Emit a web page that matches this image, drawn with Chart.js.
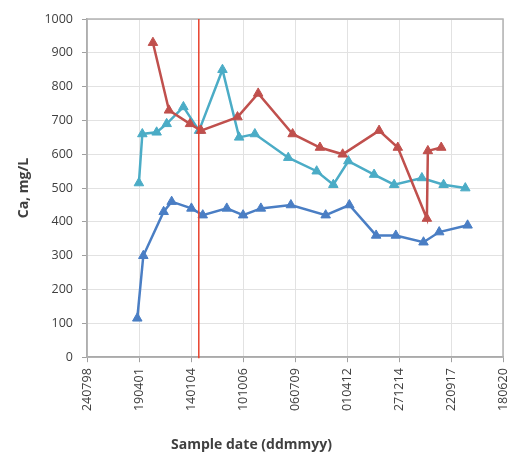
<!DOCTYPE html>
<html>
<head>
<meta charset="utf-8">
<script src="https://cdn.jsdelivr.net/npm/chart.js@4.4.1/dist/chart.umd.min.js"></script>
<style>
  html, body { margin: 0; padding: 0; background: #ffffff; }
  #wrap { width: 514px; height: 457px; }
</style>
</head>
<body>
<div id="wrap"><canvas id="chart" width="514" height="457"></canvas></div>
<script>
// Sample dates are spreadsheet day serials (days since 30 Dec 1899).
const xTickValues = [36000, 37000, 38000, 39000, 40000, 41000, 42000, 43000, 44000];
const xTickLabels = ['240798', '190401', '140104', '101006', '060709', '010412', '271214', '220917', '180620'];
const yTicks = [0, 100, 200, 300, 400, 500, 600, 700, 800, 900, 1000];

// Well A (blue)
const wellADates = [36967, 37083, 37474, 37628, 38008, 38226, 38688, 39002, 39344, 39921, 40590, 41045, 41560, 41939, 42471, 42773, 43319];
const wellACa    = [115, 300, 430, 460, 440, 420, 440, 420, 440, 450, 420, 450, 360, 360, 340, 370, 390];

// Well B (red)
const wellBDates = [37268, 37576, 37981, 38193, 38894, 39292, 39954, 40480, 40917, 41617, 41977, 42536, 42555, 42812];
const wellBCa    = [930, 730, 690, 670, 710, 780, 660, 620, 600, 670, 620, 410, 610, 620];

// Well C (teal)
const wellCDates = [36998, 37064, 37339, 37532, 37854, 38155, 38605, 38926, 39228, 39870, 40417, 40737, 41026, 41521, 41906, 42440, 42857, 43275];
const wellCCa    = [515, 660, 665, 690, 740, 670, 850, 650, 660, 590, 550, 510, 580, 540, 510, 530, 510, 500];

// Date of the reference event marked by the vertical line
const eventDate = 38150;

function toPoints(dates, values) {
  return dates.map((d, i) => ({ x: d, y: values[i] }));
}

function seriesStyle(color) {
  return {
    borderColor: color,
    backgroundColor: color,
    borderWidth: 2.5,
    pointStyle: 'triangle',
    pointRadius: 5.5,
    pointHoverRadius: 5.5,
    pointBorderWidth: 1,
    tension: 0,
    fill: false
  };
}

const eventLine = {
  id: 'eventLine',
  afterDatasetsDraw(chart) {
    const { ctx, chartArea, scales } = chart;
    const x = scales.x.getPixelForValue(eventDate);
    ctx.save();
    ctx.strokeStyle = '#e8412c';
    ctx.lineWidth = 1.5;
    ctx.beginPath();
    ctx.moveTo(x, chartArea.top);
    ctx.lineTo(x, chartArea.bottom + 1);
    ctx.stroke();
    ctx.restore();
  }
};

const plotFrame = {
  id: 'plotFrame',
  beforeDatasetsDraw(chart) {
    const { ctx, chartArea } = chart;
    ctx.save();
    ctx.strokeStyle = '#b3b3b3';
    ctx.lineWidth = 1.5;
    ctx.strokeRect(chartArea.left, chartArea.top, chartArea.right - chartArea.left, chartArea.bottom - chartArea.top);
    ctx.restore();
  }
};

const tickFont = { family: '"Open Sans", "Liberation Sans", sans-serif', size: 12.5 };
const titleFont = { family: '"Open Sans", "Liberation Sans", sans-serif', size: 14, weight: 'bold' };

new Chart(document.getElementById('chart'), {
  type: 'line',
  data: {
    datasets: [
      Object.assign({ label: 'Well A', data: toPoints(wellADates, wellACa) }, seriesStyle('#4a7ec4')),
      Object.assign({ label: 'Well B', data: toPoints(wellBDates, wellBCa) }, seriesStyle('#c0504d')),
      Object.assign({ label: 'Well C', data: toPoints(wellCDates, wellCCa) }, seriesStyle('#4bacc6'))
    ]
  },
  options: {
    responsive: false,
    animation: false,
    devicePixelRatio: 1,
    layout: { padding: { top: 19, right: 11, left: 0, bottom: 0 } },
    plugins: {
      legend: { display: false },
      tooltip: { enabled: false },
      title: {
        display: true,
        position: 'bottom',
        text: 'Sample date (ddmmyy)',
        color: '#404040',
        font: titleFont,
        padding: { top: 0, bottom: 4 }
      }
    },
    scales: {
      x: {
        type: 'linear',
        min: xTickValues[0],
        max: xTickValues[xTickValues.length - 1],
        afterBuildTicks(scale) {
          scale.ticks = xTickValues.map(v => ({ value: v }));
        },
        afterFit(scale) {
          scale.height = 79;
          scale.paddingLeft = 0;
          scale.paddingRight = 0;
        },
        ticks: {
          autoSkip: false,
          maxRotation: 90,
          minRotation: 90,
          padding: 6,
          color: '#404040',
          font: tickFont,
          callback: (value, index) => xTickLabels[index]
        },
        grid: { color: '#e2e2e2', lineWidth: 1, tickLength: 5, tickColor: '#a0a0a0' },
        border: { color: '#a0a0a0', width: 1.5 }
      },
      y: {
        min: yTicks[0],
        max: yTicks[yTicks.length - 1],
        afterBuildTicks(scale) {
          scale.ticks = yTicks.map(v => ({ value: v }));
        },
        afterFit(scale) {
          scale.width = 87;
          scale.paddingTop = 0;
          scale.paddingBottom = 0;
        },
        ticks: {
          padding: 9,
          color: '#404040',
          font: tickFont,
          callback: (value) => String(value)
        },
        grid: { color: '#e2e2e2', lineWidth: 1, tickLength: 5, tickColor: '#a0a0a0' },
        border: { color: '#a0a0a0', width: 1.5 },
        title: {
          display: true,
          text: 'Ca, mg/L',
          color: '#404040',
          font: titleFont,
          padding: { top: 16, bottom: 0 }
        }
      }
    }
  },
  plugins: [plotFrame, eventLine]
});
</script>
</body>
</html>
